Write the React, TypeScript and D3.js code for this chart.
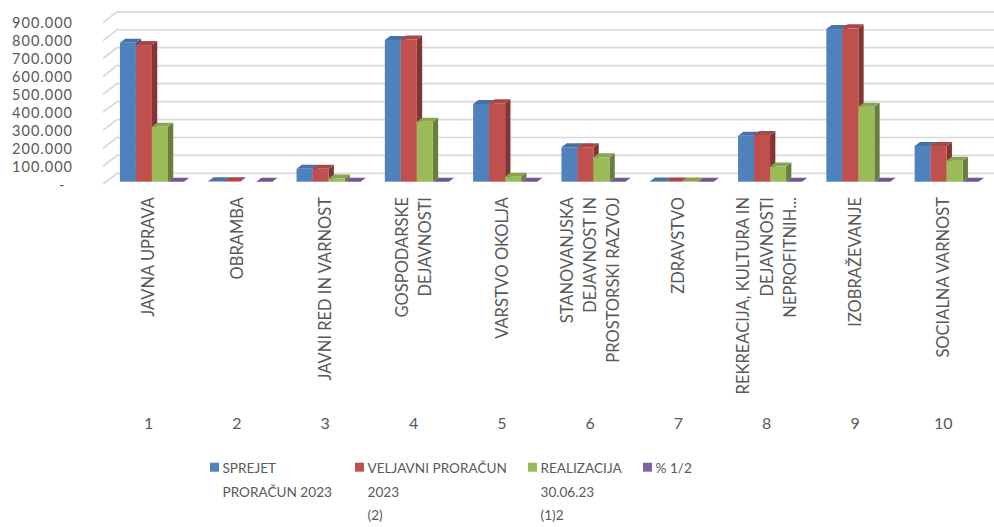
import React from 'react';
import * as d3 from 'd3';

const categoryNumbers = ['1', '2', '3', '4', '5', '6', '7', '8', '9', '10'];
const categoryLines = [
  ['JAVNA UPRAVA'],
  ['OBRAMBA'],
  ['JAVNI RED IN VARNOST'],
  ['GOSPODARSKE', 'DEJAVNOSTI'],
  ['VARSTVO OKOLJA'],
  ['STANOVANJSKA', 'DEJAVNOST IN', 'PROSTORSKI RAZVOJ'],
  ['ZDRAVSTVO'],
  ['REKREACIJA, KULTURA IN', 'DEJAVNOSTI', 'NEPROFITNIH...'],
  ['IZOBRAŽEVANJE'],
  ['SOCIALNA VARNOST'],
];

const sprejet = [774000, 2000, 72000, 789000, 433000, 192000, 1000, 256000, 850000, 199000];
const veljavni = [761000, 2000, 72000, 792000, 437000, 192000, 1000, 260000, 854000, 199000];
const realizacija = [306000, null, 18000, 334000, 28000, 136000, 1000, 84000, 418000, 117000];
const procent = [0.4, 0, 0.26, 0.42, 0.06, 0.71, 0.5, 0.32, 0.49, 0.59];

const yTicks = [0, 100000, 200000, 300000, 400000, 500000, 600000, 700000, 800000, 900000];

const series = [
  { key: 'sprejet', legend: ['SPREJET', 'PRORAČUN 2023'], values: sprejet, color: '#4f81bd', lx: 210 },
  { key: 'veljavni', legend: ['VELJAVNI PRORAČUN', '2023', '(2)'], values: veljavni, color: '#c0504d', lx: 355 },
  { key: 'realizacija', legend: ['REALIZACIJA', '30.06.23', '(1)2'], values: realizacija, color: '#9bbb59', lx: 528 },
  { key: 'procent', legend: ['% 1/2'], values: procent, color: '#8064a2', lx: 643 },
];

const W = 994;
const H = 527;
const DX = 14; // full depth of the 3D box
const DY = -10.8;
const BSX = 4.8; // bar front offset into the depth
const BSY = -2.5;
const BDX = 5.3; // bar depth
const BDY = -4;
const FONT = 'Lato, "Open Sans", sans-serif';
const TXT = '#595959';

function fmtTick(v: number) {
  if (v === 0) return '-';
  return d3.format(',')(v).replace(/,/g, '.');
}

export default function App() {
  const y = d3.scaleLinear().domain([0, 900000]).range([184.2, 22.6]);
  const x = d3.scaleBand<number>().domain(d3.range(categoryNumbers.length)).range([103, 986]);
  const inner = d3.scaleBand<string>().domain(series.map((s) => s.key)).range([0, 64]);
  const bw = inner.bandwidth();

  return (
    <svg width={W} height={H} style={{ position: 'absolute', left: 0, top: 0, background: '#fff' }} fontFamily={FONT}>
      {/* walls: side + back gridlines */}
      <g fill="none" stroke="#d9d9d9" strokeWidth={1.7}>
        {yTicks.map((t) => {
          const yf = y(t);
          return (
            <polyline
              key={`g-${t}`}
              points={`103,${yf} ${103 + DX},${yf + DY} ${1000},${yf + DY}`}
            />
          );
        })}
      </g>

      {/* y axis labels */}
      <g fill={TXT} fontSize={14.5} letterSpacing={1} textAnchor="end">
        {yTicks.map((t) => (
          <text key={`yl-${t}`} x={t === 0 ? 65.5 : 73} y={y(t) + 0.5} dy="0.35em">
            {fmtTick(t)}
          </text>
        ))}
      </g>

      {/* bars */}
      {categoryNumbers.map((_, i) => {
        const cx = (x(i) as number) + x.bandwidth() / 2;
        return (
          <g key={`c-${i}`}>
            {series.map((s) => {
              const v = s.values[i];
              if (v == null) return null;
              const xl = cx - 32 + (inner(s.key) as number) + BSX;
              const xr = xl + bw;
              const yb = y(0) + BSY;
              const yt = y(v) + BSY;
              const col = d3.color(s.color)!;
              const top = col.darker(0.35).formatHex();
              const side = col.darker(1.1).formatHex();
              return (
                <g key={s.key}>
                  <polygon
                    points={`${xr},${yt} ${xr + BDX},${yt + BDY} ${xr + BDX},${yb + BDY} ${xr},${yb}`}
                    fill={side}
                  />
                  <polygon
                    points={`${xl},${yt} ${xl + BDX},${yt + BDY} ${xr + BDX},${yt + BDY} ${xr},${yt}`}
                    fill={top}
                  />
                  <rect x={xl} y={yt} width={bw} height={Math.max(0, yb - yt)} fill={s.color} />
                </g>
              );
            })}
          </g>
        );
      })}

      {/* category labels */}
      <g fill={TXT} fontSize={16.5}>
        {categoryLines.map((lines, i) => {
          const cx = (x(i) as number) + x.bandwidth() / 2 + 1.5;
          return lines.map((ln, j) => {
            const lx = cx + (j - (lines.length - 1) / 2) * 23.3;
            return (
              <text
                key={`cl-${i}-${j}`}
                transform={`translate(${lx},197) rotate(-90)`}
                textAnchor="end"
                dy="0.35em"
              >
                {ln}
              </text>
            );
          });
        })}
      </g>
      <g fill={TXT} fontSize={16}>
        {categoryNumbers.map((n, i) => (
          <text
            key={`n-${i}`}
            x={(x(i) as number) + x.bandwidth() / 2 + 1.5}
            y={423}
            dy="0.35em"
            textAnchor="middle"
          >
            {n}
          </text>
        ))}
      </g>

      {/* legend */}
      <g fill={TXT} fontSize={13.6}>
        {series.map((s) => (
          <g key={`lg-${s.key}`}>
            <rect x={s.lx} y={462.7} width={9} height={9} fill={s.color} />
            {s.legend.map((ln, j) => (
              <text key={j} x={s.lx + 12.5} y={473.3 + j * 23.4}>
                {ln}
              </text>
            ))}
          </g>
        ))}
      </g>
    </svg>
  );
}
